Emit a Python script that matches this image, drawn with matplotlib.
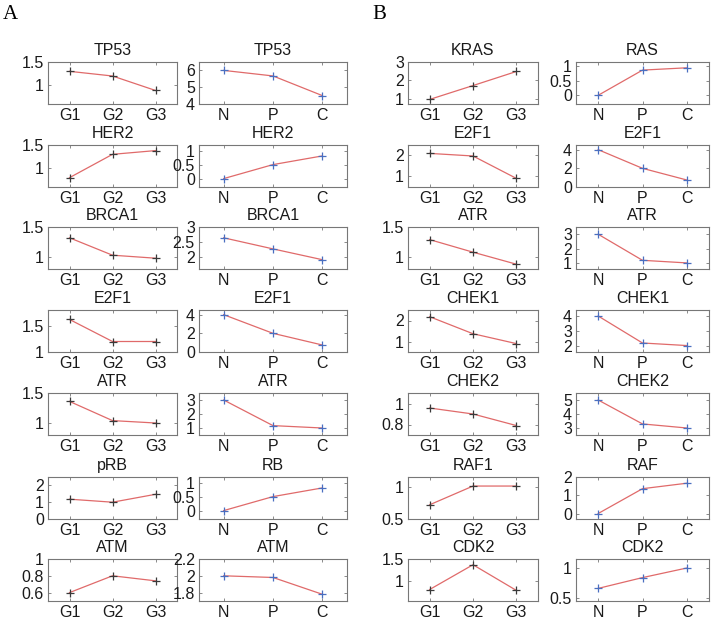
import matplotlib
matplotlib.use("Agg")
import matplotlib.pyplot as plt

plt.rcParams['font.family'] = ['Liberation Sans', 'DejaVu Sans']

g_labels = ["G1", "G2", "G3"]
npc_labels = ["N", "P", "C"]

# Panel A, left column (grades)
a_g_titles = ["TP53", "HER2", "BRCA1", "E2F1", "ATR", "pRB", "ATM"]
a_g_values = [
    [1.30, 1.20, 0.89],
    [0.80, 1.30, 1.38],
    [1.32, 1.03, 0.98],
    [1.62, 1.20, 1.20],
    [1.36, 1.04, 1.00],
    [1.18, 1.00, 1.47],
    [0.60, 0.80, 0.74],
]
a_g_ylims = [(0.6, 1.5), (0.6, 1.5), (0.8, 1.5), (1.0, 1.8), (0.8, 1.5), (0, 2.5), (0.5, 1.0)]
a_g_ticks = [[1, 1.5], [1, 1.5], [1, 1.5], [1, 1.5], [1, 1.5], [0, 1, 2], [0.6, 0.8, 1]]

# Panel A, right column (N/P/C)
a_n_titles = ["TP53", "HER2", "BRCA1", "E2F1", "ATR", "RB", "ATM"]
a_n_values = [
    [6.0, 5.67, 4.5],
    [0.0, 0.5, 0.81],
    [2.64, 2.27, 1.91],
    [4.0, 2.0, 0.75],
    [3.0, 1.17, 1.0],
    [0.0, 0.5, 0.81],
    [2.0, 1.98, 1.78],
]
a_n_ylims = [(4, 6.5), (-0.3, 1.2), (1.6, 3.0), (0, 4.5), (0.5, 3.5), (-0.3, 1.2), (1.7, 2.2)]
a_n_ticks = [[4, 5, 6], [0, 0.5, 1], [2, 2.5, 3], [0, 2, 4], [1, 2, 3], [0, 0.5, 1], [1.8, 2, 2.2]]

# Panel B, left column (grades)
b_g_titles = ["KRAS", "E2F1", "ATR", "CHEK1", "CHEK2", "RAF1", "CDK2"]
b_g_values = [
    [0.95, 1.71, 2.48],
    [2.06, 1.94, 0.90],
    [1.29, 1.08, 0.88],
    [2.18, 1.37, 0.90],
    [0.957, 0.90, 0.79],
    [0.72, 1.01, 1.01],
    [0.81, 1.37, 0.79],
]
b_g_ylims = [(0.7, 3.0), (0.5, 2.45), (0.8, 1.5), (0.5, 2.5), (0.7, 1.1), (0.5, 1.15), (0.55, 1.5)]
b_g_ticks = [[1, 2, 3], [1, 2], [1, 1.5], [1, 2], [0.8, 1], [0.5, 1], [1, 1.5]]

# Panel B, right column (N/P/C)
b_n_titles = ["RAS", "E2F1", "ATR", "CHEK1", "CHEK2", "RAF", "CDK2"]
b_n_values = [
    [0.0, 0.87, 0.95],
    [4.0, 2.0, 0.75],
    [3.0, 1.2, 1.02],
    [4.0, 2.2, 2.03],
    [5.0, 3.29, 3.0],
    [0.0, 1.36, 1.66],
    [0.66, 0.84, 1.0],
]
b_n_ylims = [(-0.3, 1.15), (0, 4.5), (0.6, 3.5), (1.6, 4.4), (2.5, 5.5), (-0.3, 2.0), (0.45, 1.15)]
b_n_ticks = [[0, 0.5, 1], [0, 2, 4], [1, 2, 3], [2, 3, 4], [3, 4, 5], [0, 1, 2], [0.5, 1]]

W, H = 712, 619
fig = plt.figure(figsize=(W / 100, H / 100), dpi=100)

col_left = [48, 199, 408, 576]
col_width = [129, 148, 130, 133]
row_top = [62, 145, 227, 310, 393, 477, 559]
row_h = 42

line_color = "#e06a6a"
edge_color = "#777777"

columns = [
    (a_g_titles, a_g_values, a_g_ylims, a_g_ticks, g_labels, "#3a3a3a"),
    (a_n_titles, a_n_values, a_n_ylims, a_n_ticks, npc_labels, "#4a6fc0"),
    (b_g_titles, b_g_values, b_g_ylims, b_g_ticks, g_labels, "#3a3a3a"),
    (b_n_titles, b_n_values, b_n_ylims, b_n_ticks, npc_labels, "#4a6fc0"),
]

def fmt(v):
    if abs(v - round(v)) < 1e-9:
        return str(int(round(v)))
    return ("%g" % v)

for ci, (titles, values, ylims, ticks, xl, mcolor) in enumerate(columns):
    for ri in range(7):
        left = col_left[ci] / W
        bottom = 1 - (row_top[ri] + row_h) / H
        ax = fig.add_axes([left, bottom, col_width[ci] / W, row_h / H])
        x = [1, 2, 3]
        ax.plot(x, values[ri], color=line_color, lw=0.9, zorder=2)
        ax.plot(x, values[ri], ls="none", marker="+", ms=6, mew=0.9,
                color=mcolor, zorder=3)
        ax.set_xlim(0.5, 3.5)
        ax.set_ylim(*ylims[ri])
        ax.set_xticks(x)
        ax.set_xticklabels(xl)
        ax.set_yticks(ticks[ri])
        ax.set_yticklabels([fmt(t) for t in ticks[ri]])
        ax.set_title(titles[ri], fontsize=11.5, pad=5, color="#1a1a1a")
        ax.tick_params(direction="in", length=2.5, width=0.6, colors=edge_color,
                       labelcolor="#1a1a1a", labelsize=11.5, pad=3,
                       top=True, right=True)
        for s in ax.spines.values():
            s.set_color(edge_color)
            s.set_linewidth(0.8)

fig.text(3 / W, 1 - 19 / H, "A", fontsize=15, family="Liberation Serif", ha="left", va="baseline")
fig.text(372 / W, 1 - 19 / H, "B", fontsize=15, family="Liberation Serif", ha="left", va="baseline")

fig.savefig("out.png", dpi=100)
